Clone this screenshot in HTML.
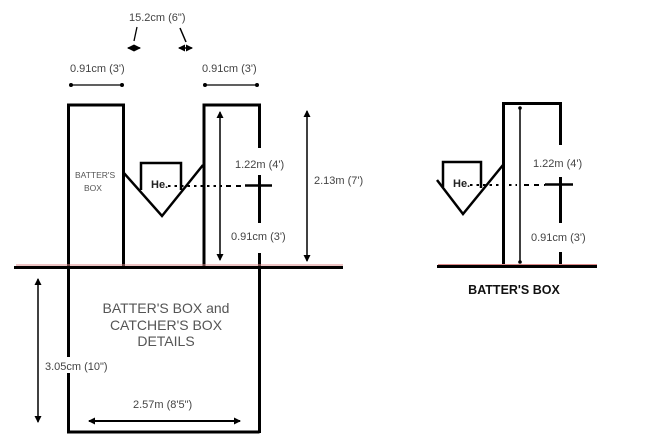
<!DOCTYPE html>
<html><head><meta charset="utf-8"><style>
html,body{margin:0;padding:0;background:#fff;}
svg{display:block;}
text{font-family:"Liberation Sans",Arial,sans-serif;}
</style></head><body>
<svg width="661" height="438" viewBox="0 0 661 438" xmlns="http://www.w3.org/2000/svg">
<defs>
<marker id="ah" markerWidth="8" markerHeight="8" refX="6" refY="4" orient="auto-start-reverse" markerUnits="userSpaceOnUse">
<path d="M0,0.5 L7,4 L0,7.5 z" fill="#000"/>
</marker>
</defs>
<rect width="661" height="438" fill="#fff"/>

<!-- top labels -->
<text x="129" y="21" font-size="11" fill="#444">15.2cm (6")</text>
<line x1="137" y1="27" x2="134" y2="41" stroke="#000" stroke-width="1.3"/>
<line x1="180" y1="28" x2="186" y2="42" stroke="#000" stroke-width="1.5"/>
<line x1="128" y1="48" x2="140" y2="48" stroke="#000" stroke-width="1.5" marker-start="url(#ah)" marker-end="url(#ah)"/>
<line x1="179" y1="48" x2="192" y2="48" stroke="#000" stroke-width="1.5" marker-start="url(#ah)" marker-end="url(#ah)"/>

<text x="70" y="72" font-size="11" fill="#444">0.91cm (3')</text>
<line x1="71" y1="85" x2="122" y2="85" stroke="#000" stroke-width="1.3"/>
<circle cx="71" cy="85" r="2"/><circle cx="122" cy="85" r="2"/>
<text x="202" y="72" font-size="11" fill="#444">0.91cm (3')</text>
<line x1="205" y1="85" x2="257" y2="85" stroke="#000" stroke-width="1.3"/>
<circle cx="205" cy="85" r="2"/><circle cx="257" cy="85" r="2"/>

<!-- left batter box -->
<polyline points="123.5,267 123.5,105 68.5,105 68.5,432 259.5,432" fill="none" stroke="#000" stroke-width="3"/>
<text x="75" y="178" font-size="8.5" fill="#555">BATTER'S</text>
<text x="84" y="191" font-size="8.5" fill="#555">BOX</text>

<!-- right box of left diagram -->
<polyline points="204,267 204,105 259.5,105 259.5,148" fill="none" stroke="#000" stroke-width="3"/>
<line x1="259.5" y1="175" x2="259.5" y2="223" stroke="#000" stroke-width="3"/>
<line x1="259.5" y1="253" x2="259.5" y2="433" stroke="#000" stroke-width="3"/>
<line x1="220" y1="112" x2="220" y2="260" stroke="#000" stroke-width="1.5" marker-start="url(#ah)" marker-end="url(#ah)"/>
<text x="235" y="168" font-size="11" fill="#444">1.22m (4')</text>
<text x="231" y="240" font-size="11" fill="#444">0.91cm (3')</text>
<line x1="245" y1="185.5" x2="272" y2="185.5" stroke="#000" stroke-width="2.5"/>

<!-- 2.13 arrow -->
<line x1="307" y1="111" x2="307" y2="261" stroke="#000" stroke-width="1.5" marker-start="url(#ah)" marker-end="url(#ah)"/>
<text x="314" y="184" font-size="11" fill="#444">2.13m (7')</text>

<!-- home plate left -->
<polyline points="123,172 162,216 203,165" fill="none" stroke="#000" stroke-width="2.5"/>
<polyline points="141,190 141,163 181,163 181,190" fill="none" stroke="#000" stroke-width="2.5"/>
<text x="151" y="188" font-size="11" font-weight="bold" fill="#222">He.</text>
<line x1="168" y1="186" x2="222" y2="186" stroke="#000" stroke-width="2" stroke-dasharray="2.5,4"/>
<line x1="226" y1="186" x2="245" y2="186" stroke="#000" stroke-width="2" stroke-dasharray="5,5"/>

<!-- horizon left -->
<line x1="16" y1="265" x2="343" y2="265" stroke="#d88" stroke-width="1"/>
<line x1="14" y1="267.5" x2="343" y2="267.5" stroke="#000" stroke-width="3"/>

<!-- bottom details -->
<text x="166" y="313" font-size="14" fill="#555" text-anchor="middle">BATTER'S BOX and</text>
<text x="166" y="330" font-size="14" fill="#555" text-anchor="middle">CATCHER'S BOX</text>
<text x="166" y="346" font-size="14" fill="#555" text-anchor="middle">DETAILS</text>
<line x1="38" y1="279" x2="38" y2="422" stroke="#000" stroke-width="1.5" marker-start="url(#ah)" marker-end="url(#ah)"/>
<rect x="44" y="357" width="72" height="16" fill="#fff"/>
<text x="45" y="370" font-size="11" fill="#444">3.05cm (10")</text>
<text x="133" y="408" font-size="11" fill="#444">2.57m (8'5")</text>
<line x1="89" y1="421" x2="240" y2="421" stroke="#000" stroke-width="2" marker-start="url(#ah)" marker-end="url(#ah)"/>

<!-- right diagram -->
<polyline points="503.5,267 503.5,103.5 560.5,103.5 560.5,145" fill="none" stroke="#000" stroke-width="3"/>
<line x1="560.5" y1="177" x2="560.5" y2="223" stroke="#000" stroke-width="3"/>
<line x1="560.5" y1="252" x2="560.5" y2="268" stroke="#000" stroke-width="3"/>
<line x1="520" y1="109" x2="520" y2="261" stroke="#000" stroke-width="1.5"/>
<circle cx="520" cy="108" r="1.8"/><circle cx="520" cy="262" r="1.8"/>
<text x="533" y="167" font-size="11" fill="#444">1.22m (4')</text>
<text x="531" y="241" font-size="11" fill="#444">0.91cm (3')</text>
<line x1="545" y1="184.5" x2="573" y2="184.5" stroke="#000" stroke-width="2.5"/>

<polyline points="437,180 463,214 503,165" fill="none" stroke="#000" stroke-width="2.5"/>
<polyline points="443,187 443,162 481,162 481,188" fill="none" stroke="#000" stroke-width="2.5"/>
<text x="453" y="187" font-size="11" font-weight="bold" fill="#222">He.</text>
<line x1="470" y1="185" x2="517" y2="185" stroke="#000" stroke-width="2" stroke-dasharray="2.5,4"/>
<line x1="524" y1="185" x2="545" y2="185" stroke="#000" stroke-width="2" stroke-dasharray="5,5"/>

<line x1="438" y1="264.5" x2="597" y2="264.5" stroke="#d88" stroke-width="1"/>
<line x1="437" y1="266.5" x2="597" y2="266.5" stroke="#000" stroke-width="3"/>
<text x="514" y="294" font-size="12.5" font-weight="bold" fill="#111" text-anchor="middle">BATTER'S BOX</text>
</svg>
</body></html>
